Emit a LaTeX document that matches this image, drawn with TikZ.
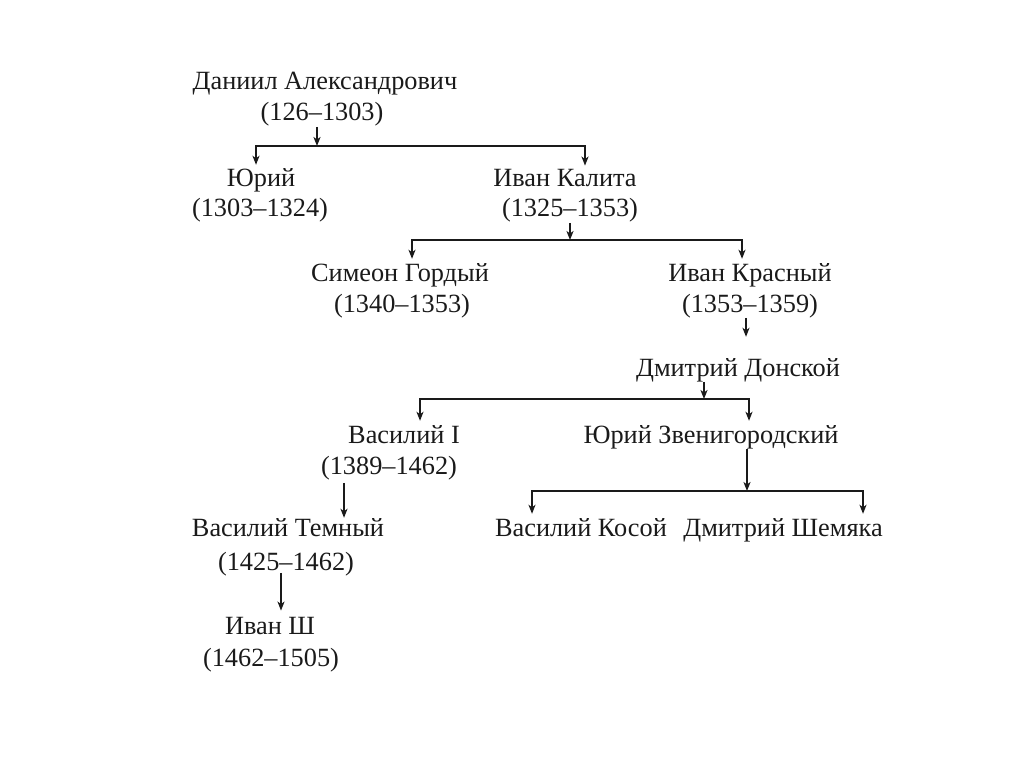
\documentclass[tikz,border=0pt]{standalone}
\usepackage{fontspec}
\setmainfont{Liberation Serif}
\usetikzlibrary{arrows.meta}
\definecolor{ink}{HTML}{1A1A1A}
\tikzset{
  lbl/.style={inner sep=0pt, anchor=base, text=ink, font=\fontsize{26.3}{31}\selectfont},
  tip/.tip={Stealth[length=9pt,width=7pt,inset=2.5pt]},
  arr/.style={draw=ink, line width=1.6pt, -tip},
  arrtwo/.style={draw=ink, line width=1.6pt, tip-tip, shorten <=4pt, shorten >=4pt},
}
\begin{document}
\begin{tikzpicture}[x=1pt,y=-1pt]
\useasboundingbox[fill=white] (0,0) rectangle (1024,767);
% row 1
\node[lbl] (dan1) at (325,90) {Даниил Александрович};
\node[lbl] (dan2) at (322,121) {(126–1303)};
% row 2
\node[lbl] (yur1) at (261,187) {Юрий};
\node[lbl] (yur2) at (260,217) {(1303–1324)};
\node[lbl] (kal1) at (565,187) {Иван Калита};
\node[lbl] (kal2) at (570,217) {(1325–1353)};
% row 3
\node[lbl] (sim1) at (400,281) {Симеон Гордый};
\node[lbl] (sim2) at (402,312) {(1340–1353)};
\node[lbl] (kra1) at (750,281) {Иван Красный};
\node[lbl] (kra2) at (750,312) {(1353–1359)};
% row 3b
\node[lbl] (don1) at (738,376) {Дмитрий Донской};
% row 4
\node[lbl] (vas1) at (404,443) {Василий I};
\node[lbl] (vas2) at (389,474) {(1389–1462)};
\node[lbl] (zve1) at (711,443) {Юрий Звенигородский};
% row 5
\node[lbl] (tem1) at (288,536) {Василий Темный};
\node[lbl] (tem2) at (286,570) {(1425–1462)};
\node[lbl] (kos1) at (581,536) {Василий Косой};
\node[lbl] (she1) at (783,536) {Дмитрий Шемяка};
% row 6
\node[lbl] (iva1) at (270,634) {Иван Ш};
\node[lbl] (iva2) at (271,666) {(1462–1505)};

% junctions
\coordinate (j1) at (317,146);
\coordinate (j1L) at (256,146);
\coordinate (j1R) at (585,146);
\coordinate (j2) at (570,240);
\coordinate (j2L) at (412,240);
\coordinate (j2R) at (742,240);
\coordinate (j3) at (704,399);
\coordinate (j3L) at (420,399);
\coordinate (j3R) at (749,399);
\coordinate (j4) at (747,491);
\coordinate (j4L) at (532,491);
\coordinate (j4R) at (863,491);
\coordinate (s1) at (746,0);
\coordinate (s2) at (344,0);
\coordinate (s3) at (281,0);

% connectors
\draw[arr] (j1 |- dan2.south) -- (j1);
\draw[arrtwo] (yur1.north -| j1L) -- (j1L) -- (j1R) -- (kal1.north -| j1R);
\draw[arr] (j2 |- kal2.south) -- (j2);
\draw[arrtwo] (sim1.north -| j2L) -- (j2L) -- (j2R) -- (kra1.north -| j2R);
\draw[arr, shorten >=21pt] (s1 |- kra2.south) -- (s1 |- don1.north);
\draw[arr] (j3 |- don1.south) -- (j3);
\draw[arrtwo] (vas1.north -| j3L) -- (j3L) -- (j3R) -- (zve1.north -| j3R);
\draw[arr, shorten <=3pt] (s2 |- vas2.south) -- (s2 |- tem1.north);
\draw[arr] (j4 |- zve1.south) -- (j4);
\draw[arrtwo] (kos1.north -| j4L) -- (j4L) -- (j4R) -- (she1.north -| j4R);
\draw[arr, shorten <=-3pt, shorten >=6pt] (s3 |- tem2.south) -- (s3 |- iva1.north);
\end{tikzpicture}
\end{document}
